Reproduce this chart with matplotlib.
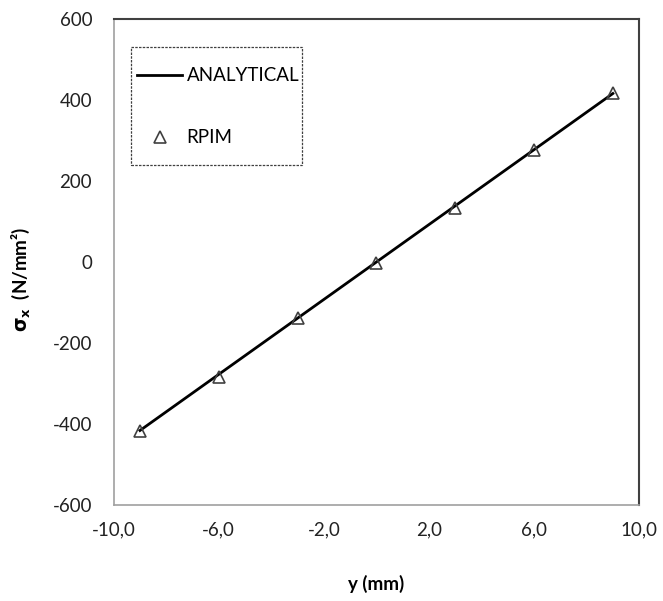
import matplotlib
matplotlib.use("Agg")
import matplotlib.pyplot as plt
from matplotlib.ticker import FuncFormatter, FixedLocator
from matplotlib.patches import Rectangle

plt.rcParams['font.family'] = ['Lato', 'DejaVu Sans']

analytical_y = [-9, 9]
analytical_s = [-416, 416]
rpim_y = [-9, -6, -3, 0, 3, 6, 9]
rpim_s = [-417, -284, -138, -2, 133, 276, 417]
xticks = [-10, -6, -2, 2, 6, 10]
yticks = [-600, -400, -200, 0, 200, 400, 600]

FS = 13.5

fig = plt.figure(figsize=(6.63, 6.01), dpi=100)
ax = fig.add_axes([0.1715, 0.1597, 0.964 - 0.1715, 0.9684 - 0.1597])

ax.plot(analytical_y, analytical_s, color='black', lw=2, label='ANALYTICAL', zorder=3)
ax.plot(rpim_y, rpim_s, linestyle='none', marker='^', markersize=9,
        markerfacecolor='none', markeredgecolor='#404040', markeredgewidth=1.2,
        label='RPIM', zorder=4)

ax.set_xlim(-10, 10)
ax.set_ylim(-600, 600)
ax.xaxis.set_major_locator(FixedLocator(xticks))
ax.yaxis.set_major_locator(FixedLocator(yticks))
ax.xaxis.set_major_formatter(FuncFormatter(lambda v, p: f"{v:.1f}".replace('.', ',')))
ax.yaxis.set_major_formatter(FuncFormatter(lambda v, p: f"{int(v)}"))
ax.tick_params(length=0, labelsize=FS, colors='#222222')
ax.tick_params(axis='y', pad=15.5)
ax.tick_params(axis='x', pad=12)

for s in ['left', 'bottom']:
    ax.spines[s].set_color('#a0a0a0')
    ax.spines[s].set_linewidth(1.2)
for s in ['top', 'right']:
    ax.spines[s].set_color('#404040')
    ax.spines[s].set_linewidth(1.5)

ax.set_xlabel('y (mm)', fontsize=FS, fontweight='bold', labelpad=26)
ax.set_ylabel(r'$\mathbf{\sigma_x}$  (N/mm²)', fontsize=FS, fontweight='bold')
ax.yaxis.set_label_coords(-0.155, 0.465)

# legend box (dashed frame)
ax.add_patch(Rectangle((0.033, 0.70), 0.3255, 0.242, transform=ax.transAxes,
                       fill=True, facecolor='white', edgecolor='#404040',
                       linestyle=(0, (2, 1)), linewidth=0.9, zorder=5))
leg = ax.legend(loc='upper left', bbox_to_anchor=(0.0444, 0.901), fontsize=FS,
                frameon=False, handlelength=2.4, handletextpad=0.25,
                labelspacing=2.4, borderpad=0, borderaxespad=0)
leg.set_zorder(6)

fig.savefig('out.png', dpi=100)
